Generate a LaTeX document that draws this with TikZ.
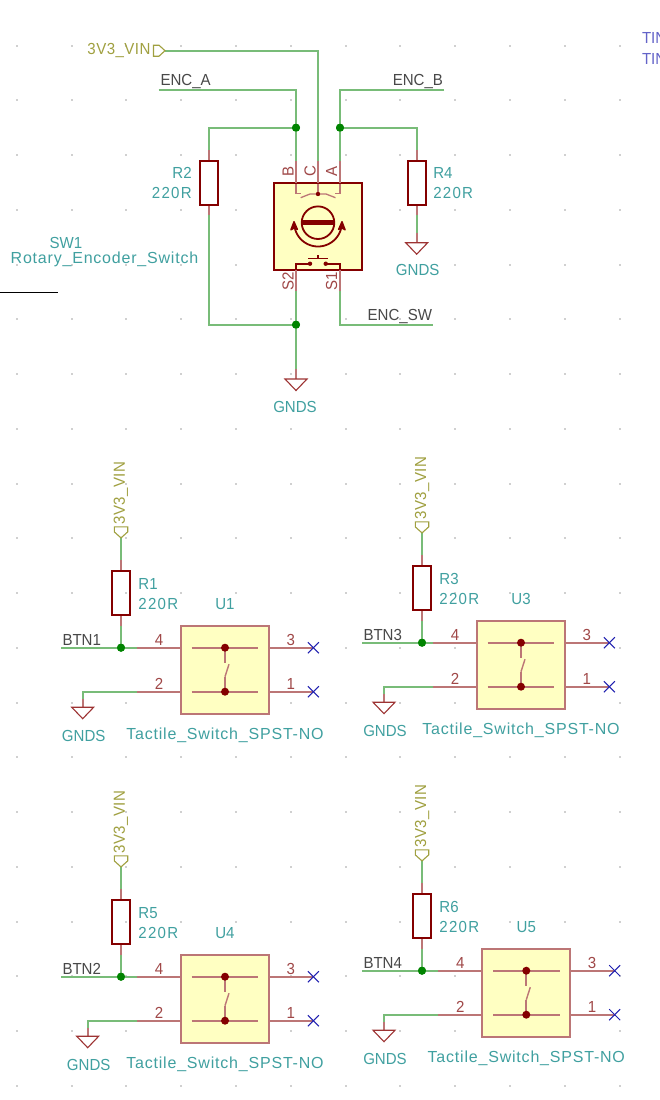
\documentclass[tikz,border=0pt]{standalone}
\usepackage{fontspec}
\setmainfont[LetterSpace=5]{Liberation Sans}
\newfontfamily\capfont[FakeStretch=0.94]{Liberation Sans}
\newfontfamily\valfont[FakeStretch=0.94,LetterSpace=8]{Liberation Sans}
\newfontfamily\vinfont[FakeStretch=0.94,LetterSpace=3]{Liberation Sans}
\definecolor{wirec}{HTML}{78BC78}
\definecolor{pinc}{HTML}{BC7676}
\definecolor{symc}{HTML}{840000}
\definecolor{fillc}{HTML}{FFFFC2}
\definecolor{junc}{HTML}{008400}
\definecolor{refc}{HTML}{40A0A0}
\definecolor{netc}{HTML}{484848}
\definecolor{olivec}{HTML}{A0A040}
\definecolor{pnumc}{HTML}{A04848}
\definecolor{ncc}{HTML}{2020B0}
\definecolor{dotc}{HTML}{D0D0D0}
\tikzset{
  x=1pt,y=-1pt,
  wire/.style={draw=wirec,line width=2pt},
  pinline/.style={draw=pinc,line width=2pt},
  junction/.style={circle,fill=junc,minimum size=8pt,inner sep=0pt,outer sep=0pt},
  resbox/.style={rectangle,draw=symc,line width=1.9pt,minimum width=18pt,minimum height=44pt,inner sep=0pt,outer sep=0pt},
  encbox/.style={rectangle,draw=symc,line width=1.9pt,fill=fillc,minimum width=87.8pt,minimum height=87pt,inner sep=0pt,outer sep=0pt},
  tactbox/.style={rectangle,draw=pinc,line width=1.9pt,fill=fillc,minimum width=88pt,minimum height=88pt,inner sep=0pt,outer sep=0pt},
  symline/.style={draw=symc,line width=1.8pt},
  gndtri/.style={draw=symc!80!white,line width=1.1pt},
  txt/.style={inner sep=0pt,outer sep=0pt,font=\fontsize{16}{16}\selectfont},
  captxt/.style={inner sep=0pt,outer sep=0pt,font=\fontsize{16}{16}\selectfont\capfont},
  reft/.style={captxt,text=refc},
  valt/.style={inner sep=0pt,outer sep=0pt,font=\fontsize{16}{16}\selectfont\valfont,text=refc},
  longt/.style={txt,text=refc},
  nett/.style={captxt,text=netc},
  olivet/.style={inner sep=0pt,outer sep=0pt,font=\fontsize{16}{16}\selectfont\vinfont,text=olivec},
  pint/.style={captxt,text=pnumc},
  nct/.style={draw=ncc,line width=1pt},
  swdot/.style={circle,fill=symc,minimum size=8pt,inner sep=0pt,outer sep=0pt},
}
\newcommand{\gndmark}[1]{%
  \draw[gndtri] ([xshift=-11pt]#1) -- ([xshift=11pt]#1) -- ([yshift=-11.5pt]#1) -- cycle;}
\newcommand{\ncmark}[1]{%
  \draw[nct] ([shift={(-5.5,-5.5)}]#1) -- ([shift={(5.5,5.5)}]#1);
  \draw[nct] ([shift={(-5.5,5.5)}]#1) -- ([shift={(5.5,-5.5)}]#1);}
% #1 R name #2 U name #3 net name #4 rx #5 jy #6 box left #7 gnd x
\newcommand{\btnunit}[7]{%
  \path (#4,#5) node[junction] (J#1) {};
  \path (#4,#5-54.3) node[resbox] (#1) {};
  \coordinate (#1tip) at (#4,#5-109.8);
  \coordinate (#1wl) at (#4-60,#5);
  \path (#6+44.2,#5+22.1) node[tactbox] (#2) {};
  \coordinate (#2pa) at (#6-44,#5);
  \coordinate (#2pb) at (#6-44,#5+44);
  \coordinate (#2gc) at (#7,#5+44);
  \coordinate (#2ga) at (#7,#5+51.5);
  \coordinate (#2gb) at (#7,#5+59.5);
  \coordinate (#2xa) at (#6+132.7,#5);
  \coordinate (#2xb) at (#6+132.7,#5+44);
  \coordinate (#2ia) at (#6+11,#5);
  \coordinate (#2ib) at (#6+77.6,#5);
  \coordinate (#2ic) at (#6+11,#5+44);
  \coordinate (#2id) at (#6+77.6,#5+44);
  \coordinate (#2ca) at (#6+44.3,#5);
  \coordinate (#2cb) at (#6+44.3,#5+44);
  \coordinate (#2sa) at (#6+44.3,#5+15.5);
  \coordinate (#2sb) at (#6+44.3,#5+29);
  \coordinate (#2sc) at (#6+48.3,#5+16.5);
  \draw[wire] (#1tip) -- ([yshift=11pt]#1.north);
  \draw[pinline] ([yshift=11pt]#1.north) -- (#1.north);
  \draw[pinline] (#1.south) -- ([yshift=-10.6pt]#1.south);
  \draw[wire] ([yshift=-10.6pt]#1.south) -- (J#1);
  \draw[wire] (#1wl) -- (#2pa);
  \draw[pinline] (#2pa) -- (#2.west|-J#1);
  \draw[pinline] (#2pb) -- (#2.west|-#2pb);
  \draw[wire] (#2pb) -- (#2gc) -- (#2ga);
  \draw[pinline] (#2ga) -- (#2gb);
  \gndmark{#2gb}
  \node[junction] at (J#1) {};
  \node[resbox] at (#1) {};
  \node[tactbox] at (#2) {};
  \draw[pinline] (#2ia) -- (#2ib);
  \draw[pinline] (#2ic) -- (#2id);
  \draw[pinline] (#2ca) -- (#2sa);
  \draw[pinline] (#2sb) -- (#2cb);
  \draw[pinline,line width=1.4pt] (#2sc) -- (#2sb);
  \node[swdot] (#2da) at (#2ca) {};
  \node[swdot] (#2db) at (#2cb) {};
  \draw[pinline] (#2.east|-#2xa) -- (#2xa);
  \draw[pinline] (#2.east|-#2xb) -- (#2xb);
  \ncmark{#2xa}
  \ncmark{#2xb}
  \node[olivet,rotate=90] (#1flagtxt) at (#4,#5-154.5) {3V3\_VIN};
  \draw[draw=olivec,line width=1.1pt] (#1tip) -- ++(-6.7,-6) -- ++(0,-5) -- ++(13.4,0) -- ++(0,5) -- cycle;
  \node[reft,anchor=west] (#1ref) at (#4+17.4,#5-64) {#1};
  \node[valt,anchor=west] (#1val) at (#4+17.4,#5-44) {220R};
  \node[reft] (#2ref) at (#6+44.3,#5-44) {#2};
  \node[nett,anchor=west] (#1net) at (#4-58.5,#5-8) {#3};
  \node[pint] (#2p4) at (#6-21.7,#5-8) {4};
  \node[pint] (#2p2) at (#6-21.7,#5+36.5) {2};
  \node[pint] (#2p3) at (#6+110,#5-8) {3};
  \node[pint] (#2p1) at (#6+110,#5+36.5) {1};
  \node[reft] (#2gnd) at (#7+1,#5+88) {GNDS};
  \node[longt] (#2val) at (#6+44.3,#5+88) {Tactile\_Switch\_SPST-NO};
}
\begin{document}
\begin{tikzpicture}
\useasboundingbox (0,0) rectangle (660,1100);
\fill[white] (0,0) rectangle (660,1100);
\foreach \i in {0,...,11}{\foreach \j in {0,...,19}{
  \fill[dotc] ({16.7+54.8*\i-1},{45.7+54.74*\j-1}) rectangle ++(2,2);
}}
% text fragments at the right edge
\node[captxt,anchor=west,text=ncc!70!white] (tina) at (642,37.5) {TIN};
\node[captxt,anchor=west,text=ncc!70!white] (tinb) at (642,59) {TIN};
% black line
\coordinate (bla) at (0,292.3);
\coordinate (blb) at (58,292.3);
\draw[black,line width=1pt] (bla) -- (blb);
% encoder
\node[encbox] (SW1) at (318,226.4) {};
\node[junction] (JB) at (296,127.7) {};
\node[junction] (JA) at (340,127.7) {};
\node[junction] (JS) at (296,324.7) {};
\path (208.7,182.9) node[resbox] (R2) {};
\path (416.7,182.9) node[resbox] (R4) {};
\coordinate (vinflag) at (165,50.7);
\coordinate (vinc) at (318,50.7);
\coordinate (pinC) at (318,161);
\coordinate (pinB) at (296,161);
\coordinate (pinA) at (340,161);
\coordinate (enca) at (158.7,90);
\coordinate (encac) at (296,90);
\coordinate (encb) at (444,90);
\coordinate (encbc) at (340,90);
\coordinate (s2a) at (296,290.7);
\coordinate (s2g) at (296,369);
\coordinate (s2t) at (296,379);
\coordinate (s1a) at (340,290.7);
\coordinate (s1c) at (340,324.7);
\coordinate (encsw) at (432.7,324.7);
\coordinate (r2w) at (208.7,127.7);
\coordinate (r2lo) at (208.7,215);
\coordinate (r2sw) at (208.7,324.7);
\coordinate (r2up) at (208.7,150);
\coordinate (r4w) at (416.7,127.7);
\coordinate (r4up) at (416.7,150);
\coordinate (r4lo) at (416.7,215);
\coordinate (r4g) at (416.7,232.7);
\coordinate (r4t) at (416.7,242.7);
\draw[wire] (vinflag) -- (vinc) -- (pinC);
\draw[wire] (enca) -- (encac) -- (pinB);
\draw[wire] (encb) -- (encbc) -- (pinA);
\draw[wire] (JB) -- (r2w) -- (r2up);
\draw[wire] (JA) -- (r4w) -- (r4up);
\draw[wire] (r2lo) -- (r2sw) -- (JS);
\draw[wire] (r4lo) -- (r4g);
\draw[wire] (s2a) -- (s2g);
\draw[wire] (s1a) -- (s1c) -- (encsw);
\draw[pinline] (r2up) -- (R2.north);
\draw[pinline] (R2.south) -- (r2lo);
\draw[pinline] (r4up) -- (R4.north);
\draw[pinline] (R4.south) -- (r4lo);
\draw[pinline] (r4g) -- (r4t);
\draw[pinline] (s2g) -- (s2t);
\gndmark{r4t}
\gndmark{s2t}
\node[junction] at (JB) {};
\node[junction] at (JA) {};
\node[junction] at (JS) {};
\node[resbox] at (R2) {};
\node[resbox] at (R4) {};
\draw[pinline] (pinC) -- (SW1.north-|pinC);
\draw[pinline] (pinB) -- (SW1.north-|pinB);
\draw[pinline] (pinA) -- (SW1.north-|pinA);
\draw[pinline] (SW1.south-|s2a) -- (s2a);
\draw[pinline] (SW1.south-|s1a) -- (s1a);
% encoder symbol interior
\coordinate (cc) at (318,222.7);
\draw[pinline,line width=1.3pt] (296,183.5) -- (296,193.3) -- (300.7,193.3);
\draw[pinline,line width=1.3pt] (340,183.5) -- (340,193.3) -- (335.3,193.3);
\draw[pinline,line width=1.3pt] (318,183.5) -- (318,194);
\draw[pinline,line width=1.3pt] (300.7,197.7) -- (310,194) -- (326,194) -- (335.5,197.7);
\fill[symc] (318,194) circle[radius=2.2pt];
\draw[symc,line width=1.8pt] (cc) circle[radius=16.3pt];
\fill[symc] (302,220.2) rectangle (334,225.4);
\draw[symc,line width=1.8pt,domain=14:166,samples=40] plot ({318+23.8*cos(\x)},{222.7+23.8*sin(\x)});
\draw[symc,line width=1.4pt,line join=round,fill=symc] (294,221.7) -- (290.9,229.8) -- (294.3,228) -- (297.4,229.4) -- cycle;
\draw[symc,line width=1.4pt,line join=round,fill=symc] (342,221.7) -- (345.1,229.8) -- (341.7,228) -- (338.6,229.4) -- cycle;
\draw[symline] (296,270) -- (296,263.7) -- (310,263.7);
\draw[symline] (340,270) -- (340,263.7) -- (325.7,263.7);
\fill[symc] (310,263.7) circle[radius=2.2pt];
\fill[symc] (325.7,263.7) circle[radius=2.2pt];
\draw[symc,line width=1.6pt] (308.3,258.3) -- (327.7,258.3);
\draw[symc,line width=1.6pt] (318,258.3) -- (318,255);
% encoder flag and labels
\draw[olivec,line width=1.1pt] (vinflag) -- ++(-6,-5.5) -- ++(-5.5,0) -- ++(0,11) -- ++(5.5,0) -- cycle;
\node[olivet,anchor=east] (vintxt) at (150.5,50.7) {3V3\_VIN};
\node[nett,anchor=west] (encatxt) at (160.5,81.7) {ENC\_A};
\node[nett,anchor=east] (encbtxt) at (443,81.7) {ENC\_B};
\node[nett,anchor=east] (encswtxt) at (432,316.7) {ENC\_SW};
\node[reft,anchor=east] (r2ref) at (191.7,172.7) {R2};
\node[valt,anchor=east] (r2val) at (191.7,192.7) {220R};
\node[reft,anchor=west] (r4ref) at (433.3,172.7) {R4};
\node[valt,anchor=west] (r4val) at (433.3,192.7) {220R};
\node[reft] (swref) at (66,242.7) {SW1};
\node[longt] (swval) at (104.5,259) {Rotary\_Encoder\_Switch};
\node[reft] (gnda) at (417.7,270) {GNDS};
\node[reft] (gndb) at (295,406.7) {GNDS};
\node[pint,rotate=90] (pb) at (288,171) {B};
\node[pint,rotate=90] (pc) at (310,171) {C};
\node[pint,rotate=90] (pa) at (331.7,171) {A};
\node[pint,rotate=90] (ps2) at (288,281.7) {S2};
\node[pint,rotate=90] (ps1) at (331.7,281.7) {S1};
% button units
\btnunit{R1}{U1}{BTN1}{121}{647.7}{180.7}{82.7}
\btnunit{R3}{U3}{BTN3}{422}{642.7}{476.7}{384}
\btnunit{R5}{U4}{BTN2}{121}{976.7}{180.7}{87.7}
\btnunit{R6}{U5}{BTN4}{422}{970.7}{482}{384}
\end{tikzpicture}
\end{document}
